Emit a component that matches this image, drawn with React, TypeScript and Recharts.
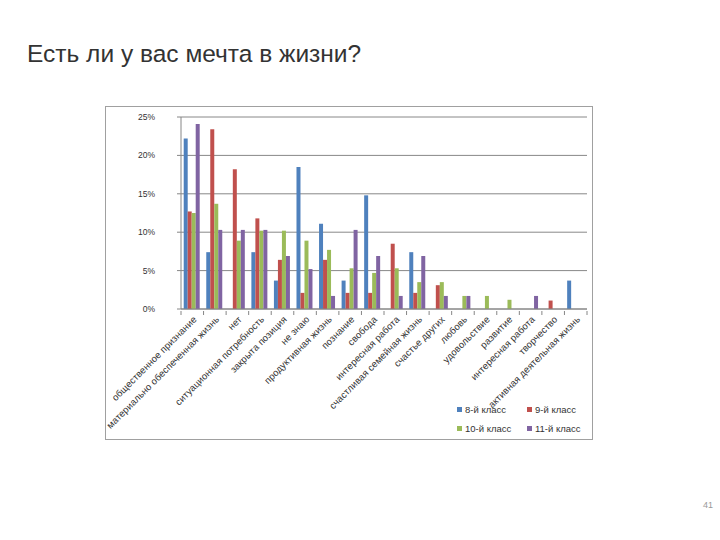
import { BarChart, Bar, XAxis, YAxis, CartesianGrid } from "recharts";

const categories = [
  "общественное признание",
  "материально обеспеченная жизнь",
  "нет",
  "ситуационная потребность",
  "закрыта позиция",
  "не знаю",
  "продуктивная жизнь",
  "познание",
  "свобода",
  "интересная работа",
  "счастливая семейная жизнь",
  "счастье других",
  "любовь",
  "удовольствие",
  "развитие",
  "интересная работа ",
  "творчество",
  "активная деятельная жизнь",
];

const grade8 = [22.2, 7.4, 0, 7.4, 3.7, 18.5, 11.1, 3.7, 14.8, 0, 7.4, 0, 0, 0, 0, 0, 0, 3.7];
const grade9 = [12.7, 23.4, 18.2, 11.8, 6.4, 2.1, 6.4, 2.1, 2.1, 8.5, 2.1, 3.1, 0, 0, 0, 0, 1.1, 0];
const grade10 = [12.5, 13.7, 8.9, 10.2, 10.2, 8.9, 7.7, 5.3, 4.7, 5.3, 3.5, 3.5, 1.7, 1.7, 1.2, 0, 0, 0];
const grade11 = [24.1, 10.3, 10.3, 10.3, 6.9, 5.2, 1.7, 10.3, 6.9, 1.7, 6.9, 1.7, 1.7, 0, 0, 1.7, 0, 0];

const yTicks = [0, 5, 10, 15, 20, 25];

const series = [
  { key: "g8", name: "8-й класс", color: "#4F81BD", values: grade8 },
  { key: "g9", name: "9-й класс", color: "#C0504D", values: grade9 },
  { key: "g10", name: "10-й класс", color: "#9BBB59", values: grade10 },
  { key: "g11", name: "11-й класс", color: "#8064A2", values: grade11 },
];

const data = categories.map((name, i) => {
  const row: Record<string, string | number> = { name };
  series.forEach((s) => (row[s.key] = s.values[i]));
  return row;
});

const BAND = 406 / categories.length;
const FONT = "'Liberation Sans', Arial, sans-serif";

function CatTick(props: any) {
  const { x, y, payload, index } = props;
  const last = index === categories.length - 1;
  return (
    <g transform={`translate(${x},${y})`}>
      <line x1={-BAND / 2} y1={0} x2={-BAND / 2} y2={4} stroke="#868686" />
      {last && <line x1={BAND / 2} y1={0} x2={BAND / 2} y2={4} stroke="#868686" />}
      <text
        x={5}
        y={9}
        textAnchor="end"
        transform="rotate(-45 5 9)"
        fontSize={9.5}
        letterSpacing={0.1}
        fill="#333"
        fontFamily={FONT}
      >
        {payload.value}
      </text>
    </g>
  );
}

export default function App() {
  return (
    <div
      style={{
        position: "absolute",
        left: 0,
        top: 0,
        width: 720,
        height: 540,
        background: "#fff",
        fontFamily: FONT,
      }}
    >
      <div style={{ position: "absolute", left: 27, top: 40, fontSize: 24.5, color: "#333" }}>
        Есть ли у вас мечта в жизни?
      </div>
      <div
        style={{
          position: "absolute",
          left: 105,
          top: 106,
          width: 488,
          height: 334,
          border: "1px solid #a0a0a0",
          boxSizing: "border-box",
        }}
      />
      <div style={{ position: "absolute", left: 105, top: 106 }}>
        <BarChart
          width={488}
          height={334}
          data={data}
          margin={{ top: 11, right: 6, bottom: 0, left: 0 }}
          barCategoryGap="12%"
          barGap={0}
        >
          <CartesianGrid vertical={false} stroke="#888" />
          <XAxis
            dataKey="name"
            height={131}
            interval={0}
            tickSize={0}
            tickLine={false}
            stroke="#868686"
            tick={<CatTick />}
          />
          <YAxis
            width={76}
            domain={[0, 25]}
            ticks={yTicks}
            tickFormatter={(v) => `${v}%`}
            stroke="#868686"
            tickSize={4}
            tickMargin={22}
            tick={{ fontSize: 8.5, fill: "#333", fontFamily: FONT }}
          />
          {series.map((s) => (
            <Bar key={s.key} dataKey={s.key} name={s.name} fill={s.color} isAnimationActive={false} />
          ))}
        </BarChart>
      </div>
      <div
        style={{
          position: "absolute",
          left: 457,
          top: 404,
          width: 140,
          display: "grid",
          gridTemplateColumns: "70px 70px",
          rowGap: 8,
          fontSize: 9.5,
          color: "#333",
        }}
      >
        {series.map((s) => (
          <div key={s.key} style={{ display: "flex", alignItems: "center" }}>
            <span style={{ width: 5, height: 5, background: s.color, marginRight: 3, display: "inline-block" }} />
            {s.name}
          </div>
        ))}
      </div>
      <div style={{ position: "absolute", left: 703, top: 500, fontSize: 9, color: "#999" }}>41</div>
    </div>
  );
}
